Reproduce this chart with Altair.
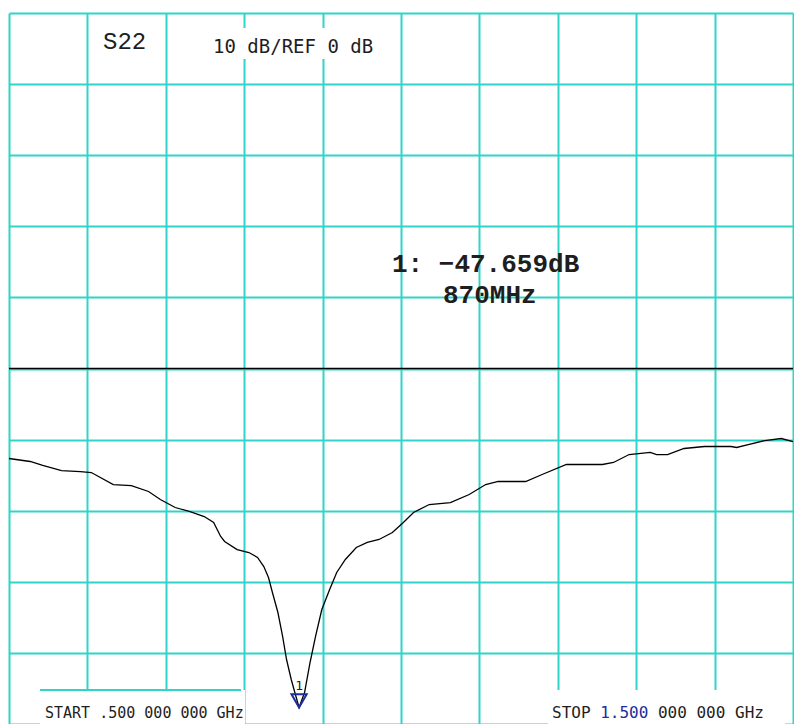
import altair as alt
import pandas as pd

# S22 sweep, 500 MHz - 1500 MHz, log magnitude (dB)
freq_mhz = [500, 527, 543, 567, 591, 605, 633, 656, 678, 693, 712, 730, 749, 761,
            770, 775, 791, 806, 817, 825, 831, 836, 843, 849, 854, 860, 866, 870,
            877, 884, 891, 899, 909, 918, 929, 943, 957, 972, 989, 1003, 1016,
            1036, 1063, 1087, 1108, 1124, 1159, 1180, 1211, 1257, 1271, 1291,
            1318, 1326, 1340, 1361, 1387, 1421, 1428, 1443, 1464, 1485, 1500]
s22_db = [-12.66, -13.08, -13.64, -14.35, -14.49, -14.63, -16.32, -16.46, -17.30,
          -18.42, -19.55, -20.11, -20.82, -21.66, -23.63, -24.33, -25.46, -25.88,
          -26.58, -27.85, -29.40, -31.50, -34.32, -37.69, -40.93, -43.74, -46.13,
          -47.659, -45.57, -41.35, -37.69, -33.90, -31.08, -28.69, -26.86, -25.18,
          -24.47, -24.05, -23.07, -21.66, -20.25, -19.13, -18.85, -17.72, -16.32,
          -15.89, -15.89, -14.91, -13.50, -13.50, -13.22, -12.10, -11.81, -12.10,
          -12.10, -11.25, -10.97, -10.97, -11.11, -10.69, -10.13, -9.85, -10.27]

# graticule: 10 divisions each way, 100 MHz/div and 10 dB/div around REF 0 dB
grid_freq = [500, 600, 700, 800, 900, 1000, 1100, 1200, 1300, 1400, 1500]
grid_db = [-50, -40, -30, -20, -10, 0, 10, 20, 30, 40, 50]
ref_db = [0]

# marker 1
marker_freq = [870]
marker_db = [-47.659]

start_text = "START .500 000 000 GHz"
stop_parts = ["STOP", "1.500", "000 000 GHz"]
scale_text = "10 dB/REF 0 dB"
param_text = "S22"

GRID = "#30d5c8"
INK = "#1e1e1e"
NAVY = "#1c2d9c"
MONO = "DejaVu Sans Mono"
COURIER = "Liberation Mono"

x_enc = alt.X("f:Q", scale=alt.Scale(domain=[500, 1500], nice=False, zero=False),
              axis=alt.Axis(values=grid_freq, grid=True, gridColor=GRID, gridWidth=2,
                            gridOpacity=1, labels=False, ticks=False, domain=False,
                            title=None))
y_enc = alt.Y("db:Q", scale=alt.Scale(domain=[-50, 50], nice=False, zero=False),
              axis=alt.Axis(values=grid_db, grid=True, gridColor=GRID, gridWidth=2,
                            gridOpacity=1, labels=False, ticks=False, domain=False,
                            title=None))

trace = pd.DataFrame({"f": freq_mhz, "db": s22_db})
marker = pd.DataFrame({"f": marker_freq, "db": marker_db})
one = pd.DataFrame({"k": [0]})

line = alt.Chart(trace).mark_line(color="black", strokeWidth=1.3).encode(x=x_enc, y=y_enc)

ref = alt.Chart(pd.DataFrame({"db": ref_db})).mark_rule(
    color="black", strokeWidth=1.6).encode(y=y_enc)

tri = alt.Chart(marker).mark_point(
    shape="triangle-down", filled=False, stroke=NAVY, strokeWidth=2,
    size=230, yOffset=-6.5, opacity=1).encode(x=x_enc, y=y_enc)

tri_label = alt.Chart(marker).mark_text(
    text="1", fontSize=13, font=MONO, color=INK, dy=-21).encode(x=x_enc, y=y_enc)

readout_db = alt.Chart(marker).transform_calculate(
    t="'1: ' + format(datum.db, '.3f') + 'dB'").mark_text(
    font=COURIER, fontSize=26, fontWeight="bold", color=INK, align="left",
    baseline="alphabetic").encode(text="t:N", x=alt.value(383), y=alt.value(259))

readout_f = alt.Chart(marker).transform_calculate(
    t="format(datum.f, 'd') + 'MHz'").mark_text(
    font=COURIER, fontSize=26, fontWeight="bold", color=INK, align="left",
    baseline="alphabetic").encode(text="t:N", x=alt.value(434), y=alt.value(290))

# white panels behind the annotation texts
def panel(x0, x1, y0, y1):
    return alt.Chart(one).mark_rect(color="white").encode(
        x=alt.value(x0), x2=alt.value(x1), y=alt.value(y0), y2=alt.value(y1))

top_panel = panel(196, 366, 15, 46)
start_panel = panel(31, 236, 677, 711)
stop_panel = panel(539, 776, 677, 711)
start_edge = alt.Chart(one).mark_rule(color=GRID, strokeWidth=2).encode(
    x=alt.value(31), x2=alt.value(232), y=alt.value(677))

def label(txt, x, y, size, font=MONO, color=INK, weight="normal"):
    return alt.Chart(one).mark_text(
        text=txt, font=font, fontSize=size, color=color, fontWeight=weight,
        align="left", baseline="alphabetic").encode(x=alt.value(x), y=alt.value(y))

# monospace advance for the STOP line, so its three pieces line up
adv = 16 * 0.602
param = label(param_text, 94, 36, 24, font=COURIER)
scale_lbl = label(scale_text, 204, 40, 19)
start_lbl = label(start_text, 36, 705, 15)
stop_a = label(stop_parts[0], 543, 705, 16)
stop_b = label(stop_parts[1], 543 + 5 * adv, 705, 16, color=NAVY)
stop_c = label(stop_parts[2], 543 + 11 * adv, 705, 16)

chart = alt.layer(
    line, ref, top_panel, start_panel, stop_panel, start_edge,
    tri, tri_label, readout_db, readout_f,
    param, scale_lbl, start_lbl, stop_a, stop_b, stop_c,
).properties(
    width=784, height=711,
    padding={"left": 9, "top": 13, "right": 1, "bottom": 0},
    autosize=alt.AutoSizeParams(type="none"),
    background="white",
).configure_view(stroke=None)

chart.save("out.html", embed_options={"renderer": "svg", "actions": False})
